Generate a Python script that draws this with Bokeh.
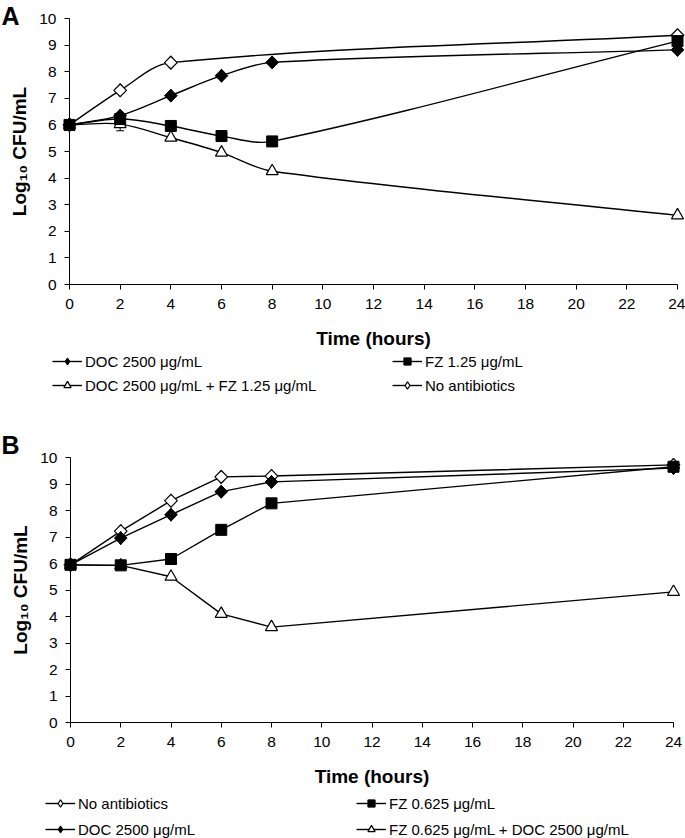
import math
from bokeh.plotting import figure
from bokeh.models import (Range1d, Legend, LegendItem, Label, SingleIntervalTicker,
                          Whisker, ColumnDataSource, TeeHead)
from bokeh.layouts import column
from bokeh.embed import file_html
from bokeh.resources import INLINE

FONT = "Liberation Sans"

# ---------------- data: panel A ----------------
a_time = [0, 2, 4, 6, 8, 24]
a_doc = [6.0, 6.35, 7.1, 7.85, 8.35, 8.82]
a_fz = [6.0, 6.22, 5.96, 5.58, 5.38, 9.15]
a_combo = [6.0, 6.03, 5.52, 4.96, 4.26, 2.6]
a_none_time = [0, 2, 4, 24]
a_none = [6.0, 7.3, 8.34, 9.37]
a_err_time = [2]
a_err_value = [6.03]
a_err = [0.25]

# ---------------- data: panel B ----------------
b_time = [0, 2, 4, 6, 8, 24]
b_none = [5.95, 7.22, 8.37, 9.27, 9.3, 9.72]
b_doc = [5.95, 6.96, 7.84, 8.71, 9.08, 9.6]
b_fz = [5.95, 5.93, 6.17, 7.27, 8.27, 9.65]
b_combo = [5.95, 5.93, 5.5, 4.1, 3.6, 4.93]

labels_a = ["DOC 2500 \u03bcg/mL", "FZ 1.25 \u03bcg/mL",
            "DOC 2500 \u03bcg/mL + FZ 1.25 \u03bcg/mL", "No antibiotics"]
labels_b = ["No antibiotics", "FZ 0.625 \u03bcg/mL",
            "DOC 2500 \u03bcg/mL", "FZ 0.625 \u03bcg/mL + DOC 2500 \u03bcg/mL"]

X_LABEL = "Time (hours)"
Y_LABEL = "Log\u2081\u2080 CFU/mL"
X_MIN, X_MAX = 0, 24
Y_MIN, Y_MAX = 0, 10

W = 685


def make_fig(H, px_x0, px_x1, px_ytop, px_ybot):
    """Figure whose frame covers the whole canvas; the axes sit at the data origin."""
    kx = (px_x1 - px_x0) / (X_MAX - X_MIN)
    ky = (px_ybot - px_ytop) / (Y_MAX - Y_MIN)
    xr = Range1d(X_MIN - px_x0 / kx, X_MAX + (W - px_x1) / kx)
    yr = Range1d(Y_MIN - (H - px_ybot) / ky, Y_MAX + px_ytop / ky)
    p = figure(width=W, height=H, x_range=xr, y_range=yr,
               output_backend="svg", toolbar_location=None, min_border=0,
               x_axis_label=X_LABEL, y_axis_label=Y_LABEL)
    p.outline_line_color = None
    p.grid.visible = False
    p.xaxis.ticker = SingleIntervalTicker(interval=2)
    p.yaxis.ticker = SingleIntervalTicker(interval=1)
    p.xaxis.fixed_location = Y_MIN
    p.yaxis.fixed_location = X_MIN
    p.xaxis.bounds = (X_MIN, X_MAX)
    p.yaxis.bounds = (Y_MIN, Y_MAX)
    for ax in (p.xaxis[0], p.yaxis[0]):
        ax.minor_tick_line_color = None
        ax.major_tick_in = 0
        ax.major_tick_out = 5
        ax.axis_line_color = "black"
        ax.major_tick_line_color = "black"
        ax.major_label_text_font = FONT
        ax.major_label_text_font_size = "15.5px"
        ax.major_label_text_color = "black"
        ax.axis_label_text_font = FONT
        ax.axis_label_text_font_style = "bold"
        ax.axis_label_text_font_size = "19px"
        ax.axis_label_text_color = "black"
    p.xaxis.major_label_standoff = 9
    p.xaxis.axis_label_standoff = 16
    p.yaxis.major_label_standoff = 8
    p.yaxis.axis_label_standoff = 6
    return p, kx, ky


def smooth_segments(xs, ys, sx, sy):
    """Excel-style smoothed-line Bezier control points for each segment."""
    X = [x * sx for x in xs]
    Y = [y * sy for y in ys]
    n = len(X)
    seg = dict(x0=[], y0=[], x1=[], y1=[], cx0=[], cy0=[], cx1=[], cy1=[])

    def d(a, b):
        return math.hypot(X[a] - X[b], Y[a] - Y[b])

    for i in range(n - 1):
        i0 = i - 1 if i > 0 else i
        i3 = i + 2 if i + 2 < n else i + 1
        d01, d12, d23 = d(i0, i), d(i, i + 1), d(i + 1, i3)
        f1 = d12 / (d01 + d12) / 3 if d01 + d12 > 0 else 0
        f2 = d12 / (d12 + d23) / 3 if d12 + d23 > 0 else 0
        c1x = X[i] + f1 * (X[i + 1] - X[i0])
        c1y = Y[i] + f1 * (Y[i + 1] - Y[i0])
        c2x = X[i + 1] - f2 * (X[i3] - X[i])
        c2y = Y[i + 1] - f2 * (Y[i3] - Y[i])
        seg["x0"].append(xs[i]); seg["y0"].append(ys[i])
        seg["x1"].append(xs[i + 1]); seg["y1"].append(ys[i + 1])
        seg["cx0"].append(c1x / sx); seg["cy0"].append(c1y / sy)
        seg["cx1"].append(c2x / sx); seg["cy1"].append(c2y / sy)
    return seg


MARK = {
    "fdiamond": dict(marker="square", angle=math.pi / 4, size=9,
                     fill_color="black", line_color="black"),
    "odiamond": dict(marker="square", angle=math.pi / 4, size=9,
                     fill_color="white", line_color="black", line_width=1.2),
    "square": dict(marker="square", size=11, fill_color="black", line_color="black"),
    "triangle": dict(marker="triangle", size=12, fill_color="white",
                     line_color="black", line_width=1.2),
}
# glyphs used by the legend for the diamonds (the legend does not rotate markers);
# they are drawn at the same points underneath the rotated squares
LEG_MARK = {
    "fdiamond": dict(marker="diamond", size=13, fill_color="black", line_color="black"),
    "odiamond": dict(marker="diamond", size=13, fill_color="white", line_color="black",
                     line_width=1.2),
}
LW = 1.4


def draw_markers(p, xs, ys, mk):
    leg = None
    if mk in LEG_MARK:
        leg = p.scatter(xs, ys, **LEG_MARK[mk])
    rm = p.scatter(xs, ys, **MARK[mk])
    return leg if leg is not None else rm


def legend_block(p, items, x, y, spacing, h=18):
    lg = Legend(items=items, location=(x, y), orientation="vertical",
                glyph_width=30, glyph_height=h, label_height=h,
                spacing=spacing, padding=0, margin=0, label_standoff=3,
                border_line_color=None, background_fill_alpha=0,
                label_text_font=FONT, label_text_font_size="15px",
                label_text_color="black")
    p.add_layout(lg, "center")


# ---------------- panel A (smoothed lines) ----------------
HA = 418
pa, kxa, kya = make_fig(HA, 69, 677, 18, 284)

series_a = [
    ("none", a_none_time, a_none, "odiamond"),
    ("combo", a_time, a_combo, "triangle"),
    ("doc", a_time, a_doc, "fdiamond"),
    ("fz", a_time, a_fz, "square"),
]
rend_a = {}
for key, xs, ys, mk in series_a:
    seg = smooth_segments(xs, ys, kxa, kya)
    rl = pa.bezier(source=ColumnDataSource(seg), x0="x0", y0="y0", x1="x1", y1="y1",
                   cx0="cx0", cy0="cy0", cx1="cx1", cy1="cy1",
                   line_color="black", line_width=LW)
    if key == "combo":
        err_src = ColumnDataSource(dict(
            base=a_err_time,
            lower=[v - e for v, e in zip(a_err_value, a_err)],
            upper=[v + e for v, e in zip(a_err_value, a_err)]))
        pa.add_layout(Whisker(source=err_src, base="base", lower="lower", upper="upper",
                              line_color="black", line_width=1,
                              upper_head=TeeHead(size=8, line_color="black"),
                              lower_head=TeeHead(size=8, line_color="black")))
    rend_a[key] = [rl, draw_markers(pa, xs, ys, mk)]

legend_block(pa, [LegendItem(label=labels_a[0], renderers=rend_a["doc"]),
                  LegendItem(label=labels_a[2], renderers=rend_a["combo"])], 52, 24, 6)
legend_block(pa, [LegendItem(label=labels_a[1], renderers=rend_a["fz"]),
                  LegendItem(label=labels_a[3], renderers=rend_a["none"])], 392, 24, 6)
pa.add_layout(Label(x=1, y=HA - 1, x_units="screen", y_units="screen", text="A",
                    text_font=FONT, text_font_style="bold", text_font_size="25px",
                    text_baseline="top", text_color="black"))

# ---------------- panel B (straight lines) ----------------
HB = 420
pb, kxb, kyb = make_fig(HB, 70, 673, 39, 304)
series_b = [
    ("none", b_none, "odiamond"),
    ("doc", b_doc, "fdiamond"),
    ("combo", b_combo, "triangle"),
    ("fz", b_fz, "square"),
]
rend_b = {}
for key, ys, mk in series_b:
    rl = pb.line(b_time, ys, line_color="black", line_width=LW)
    rend_b[key] = [rl, draw_markers(pb, b_time, ys, mk)]

legend_block(pb, [LegendItem(label=labels_b[0], renderers=rend_b["none"]),
                  LegendItem(label=labels_b[2], renderers=rend_b["doc"])], 45, 0, 8)
legend_block(pb, [LegendItem(label=labels_b[1], renderers=rend_b["fz"]),
                  LegendItem(label=labels_b[3], renderers=rend_b["combo"])], 356, 0, 8)
pb.add_layout(Label(x=1, y=HB - 12, x_units="screen", y_units="screen", text="B",
                    text_font=FONT, text_font_style="bold", text_font_size="25px",
                    text_baseline="top", text_color="black"))

layout = column(pa, pb, spacing=0)
open("out.html", "w").write(file_html(layout, INLINE))
